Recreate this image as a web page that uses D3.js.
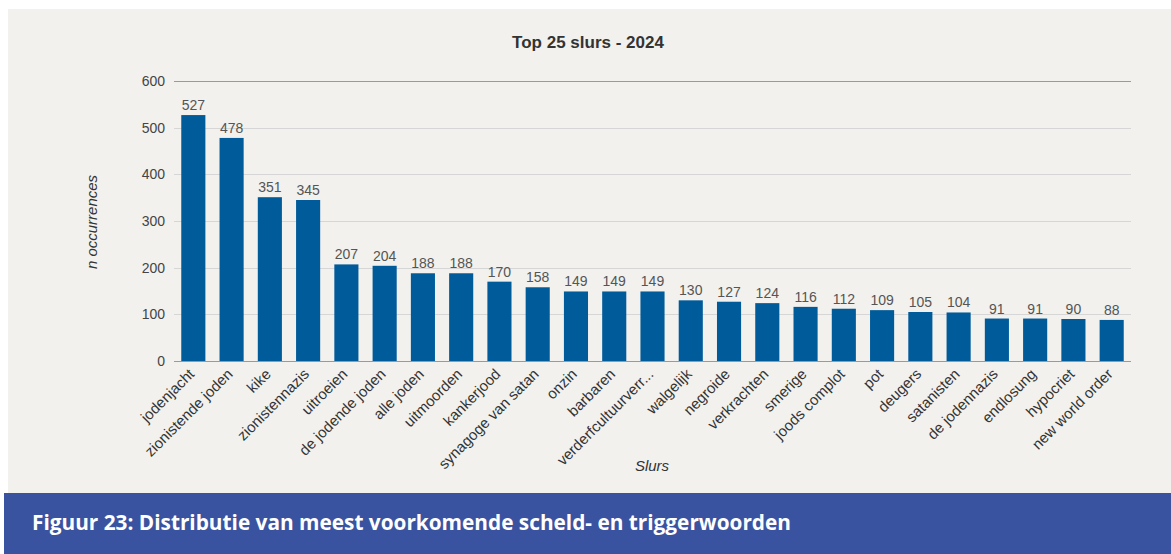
<!DOCTYPE html>
<meta charset="utf-8">
<style>
    body { margin: 0; background: #fff; }
    svg { display: block; }
    text { font-family: "Liberation Sans", Arial, sans-serif; }
    .caption { font-family: "Open Sans", sans-serif; font-weight: 700; font-size: 20.8px; fill: #fff; }
</style>
<svg width="1171" height="554"></svg>
<script src="https://cdn.jsdelivr.net/npm/d3@7"></script>
<script>

    const slurs = ["jodenjacht", "zionistende joden", "kike", "zionistennazis", "uitroeien",
        "de jodende joden", "alle joden", "uitmoorden", "kankerjood", "synagoge van satan",
        "onzin", "barbaren", "verderfcultuurverr...", "walgelijk", "negroide", "verkrachten",
        "smerige", "joods complot", "pot", "deugers", "satanisten", "de jodennazis",
        "endlosung", "hypocriet", "new world order"];
    const counts = [527, 478, 351, 345, 207, 204, 188, 188, 170, 158, 149, 149, 149, 130,
        127, 124, 116, 112, 109, 105, 104, 91, 91, 90, 88];
    const yTicks = [0, 100, 200, 300, 400, 500, 600];

    const BAR_COLOR = "#005b9a";
    const PLOT_LEFT = 174, PLOT_RIGHT = 1131, PLOT_TOP = 81, PLOT_BOTTOM = 361;

    var svg = d3.select("svg");

    // panel + caption strip
    svg.append("rect").attr("x", 8).attr("y", 9).attr("width", 1163).attr("height", 484).attr("fill", "#f2f1ee");
    svg.append("rect").attr("x", 4).attr("y", 493).attr("width", 1167).attr("height", 61).attr("fill", "#3a53a0");
    svg.append("text").attr("class", "caption").attr("x", 32).attr("y", 530)
        .text("Figuur 23: Distributie van meest voorkomende scheld- en triggerwoorden");

    var x = d3.scaleBand().domain(slurs).range([PLOT_LEFT, PLOT_RIGHT]).paddingInner(0.37).paddingOuter(0.19);
    var y = d3.scaleLinear().domain([0, 600]).range([PLOT_BOTTOM, PLOT_TOP]);

    // gridlines
    svg.append("g")
        .selectAll("line").data(yTicks).enter().append("line")
        .attr("x1", PLOT_LEFT).attr("x2", PLOT_RIGHT)
        .attr("y1", function (d) { return Math.round(y(d)) + 0.5; })
        .attr("y2", function (d) { return Math.round(y(d)) + 0.5; })
        .attr("stroke", function (d) { return d === 0 || d === 600 ? "#9a9a9a" : "#d6d6d6"; });

    // y tick labels
    svg.append("g").selectAll("text").data(yTicks).enter().append("text")
        .attr("x", 165).attr("y", function (d) { return y(d); })
        .attr("dy", "0.35em").attr("text-anchor", "end")
        .attr("font-size", 14).attr("fill", "#444")
        .text(function (d) { return d; });

    // bars
    svg.append("g").selectAll("rect").data(counts).enter().append("rect")
        .attr("x", function (d, i) { return x(slurs[i]); })
        .attr("y", function (d) { return y(d); })
        .attr("width", x.bandwidth())
        .attr("height", function (d) { return PLOT_BOTTOM - y(d); })
        .attr("fill", BAR_COLOR);

    // baseline on top of bars
    svg.append("line").attr("x1", PLOT_LEFT).attr("x2", PLOT_RIGHT)
        .attr("y1", PLOT_BOTTOM + 0.5).attr("y2", PLOT_BOTTOM + 0.5)
        .attr("stroke", "#9a9a9a");

    // value labels
    svg.append("g").selectAll("text").data(counts).enter().append("text")
        .attr("x", function (d, i) { return x(slurs[i]) + x.bandwidth() / 2; })
        .attr("y", function (d) { return y(d) - 5; })
        .attr("text-anchor", "middle").attr("font-size", 14).attr("fill", "#555")
        .text(function (d) { return d; });

    // x category labels
    svg.append("g").selectAll("text").data(slurs).enter().append("text")
        .attr("transform", function (d) {
            return "translate(" + (x(d) + x.bandwidth() / 2 + 2) + "," + (PLOT_BOTTOM + 14) + ") rotate(-45)";
        })
        .attr("text-anchor", "end").attr("font-size", 15).attr("fill", "#333")
        .text(function (d) { return d; });

    // titles
    svg.append("text").attr("x", 588).attr("y", 48).attr("text-anchor", "middle")
        .attr("font-size", 17).attr("font-weight", "bold").attr("fill", "#333")
        .text("Top 25 slurs - 2024");

    svg.append("text").attr("transform", "translate(97,222) rotate(-90)")
        .attr("text-anchor", "middle").attr("font-size", 15).attr("font-style", "italic").attr("fill", "#333")
        .text("n occurrences");

    svg.append("text").attr("x", 652).attr("y", 471).attr("text-anchor", "middle")
        .attr("font-size", 15).attr("font-style", "italic").attr("fill", "#333")
        .text("Slurs");

</script>
